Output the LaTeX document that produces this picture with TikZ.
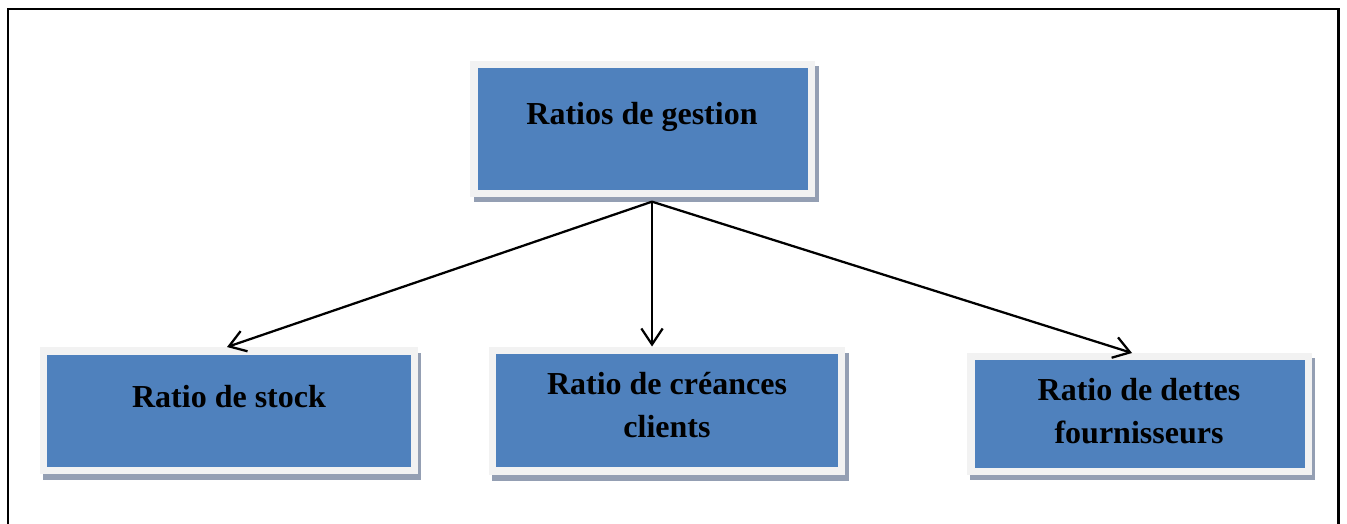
\documentclass[tikz,border=0pt]{standalone}
\usepackage{fontspec}
\setmainfont{Liberation Serif}
\usetikzlibrary{arrows.meta,backgrounds}
\definecolor{boxblue}{HTML}{4F81BD}
\definecolor{boxrim}{HTML}{F2F2F2}
\definecolor{boxshade}{HTML}{949FB3}
\tikzset{
  rimbox/.style={fill=boxblue, draw=boxrim, line width=5.6pt, inner sep=0pt},
  boxtext/.style={font=\bfseries\fontsize{24}{32}\selectfont, align=center, inner sep=0pt},
  link/.style={line width=1.7pt, -{Straight Barb[length=12pt,width=16pt,line width=1.7pt]}},
  frame/.style={line width=2.2pt}
}
\begin{document}
\begin{tikzpicture}[x=0.75pt,y=-0.75pt]
  \useasboundingbox (0,0) rectangle (1347,524);
  % outer frame, open at the bottom
  \draw[frame] (8,540) -- (8,9) -- (1338.5,9) -- (1338.5,540);

  % boxes (size given as rim centre line)
  \node[rimbox, minimum width=253.1pt, minimum height=96.4pt] (top) at (642.5,129) {};
  \node[rimbox, minimum width=277.9pt, minimum height=89.6pt] (stock) at (229,410.5) {};
  \node[rimbox, minimum width=262.1pt, minimum height=90.4pt] (cre) at (667,410.5) {};
  \node[rimbox, minimum width=253.1pt, minimum height=85.9pt] (det) at (1139.5,414) {};

  % drop shadows
  \begin{scope}[on background layer]
    \fill[boxshade] ([shift={(3pt,-4pt)}]top.north west) rectangle ([shift={(3pt,-4pt)}]top.south east);
    \fill[boxshade] ([shift={(2.3pt,-4.5pt)}]stock.north west) rectangle ([shift={(2.3pt,-4.5pt)}]stock.south east);
    \fill[boxshade] ([shift={(2.3pt,-4.5pt)}]cre.north west) rectangle ([shift={(2.3pt,-4.5pt)}]cre.south east);
    \fill[boxshade] ([shift={(2pt,-3.6pt)}]det.north west) rectangle ([shift={(2pt,-3.6pt)}]det.south east);
  \end{scope}

  % labels
  \node[boxtext] (ttop) at (642,117) {Ratios de gestion};
  \node[boxtext] (tstock) at (229,397) {Ratio de stock};
  \node[boxtext] (tcre) at (667,405) {Ratio de créances\\clients};
  \node[boxtext] (tdet) at (1139,411) {Ratio de dettes\\fournisseurs};

  % connectors
  \coordinate (src) at ([yshift=-3.5pt]top.south -| 652,0);
  \draw[link] (src) -- ([xshift=-1.5pt]stock.north);
  \draw[link] (src) -- ([xshift=-11.25pt]cre.north);
  \draw[link] (src) -- ([xshift=-5.6pt]det.north);
\end{tikzpicture}
\end{document}
